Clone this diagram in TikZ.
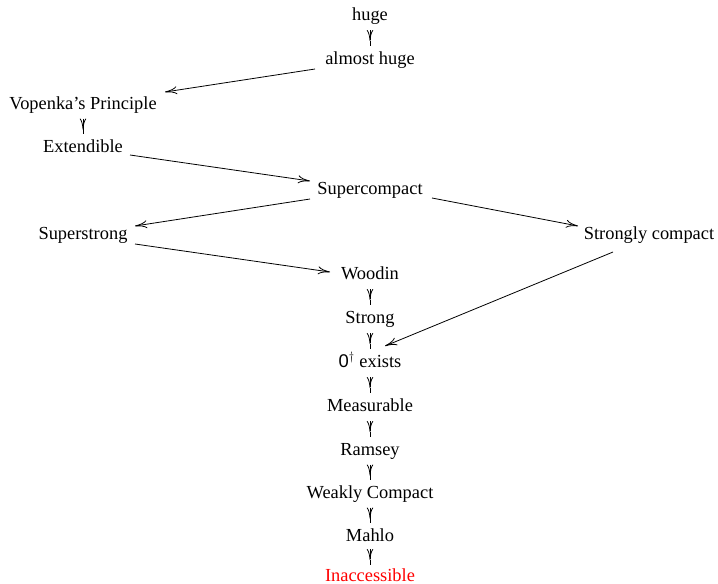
\documentclass[tikz,border=0pt]{standalone}
\usepackage{fontspec}
\setmainfont{Liberation Serif}
\setsansfont{Liberation Sans}
\usetikzlibrary{arrows.meta,calc}
\newcommand{\vlink}[2]{%
 \draw[vtip] ($(#1.base)!.5!(#2.base)+(0,-12)$) -- ($(#1.base)!.5!(#2.base)+(0,-1)$);
 \draw[line width=0.8pt] ($(#1.base)!.5!(#2.base)+(0,-1.5)$) -- ($(#1.base)!.5!(#2.base)+(0,3.5)$);}
\begin{document}
\begin{tikzpicture}[x=1pt,y=-1pt,
  lbl/.style={anchor=base,inner sep=0pt,font=\fontsize{18.4}{21}\selectfont},
  vtip/.style={line width=0.8pt,-{To[length=11pt,width=6.5pt]}},
  dtip/.style={line width=0.8pt,-{To[length=12pt,width=8pt]}}]
\useasboundingbox (0,0) rectangle (718,584);
\node[lbl] (huge) at (370,20) {huge};
\node[lbl] (ahuge) at (370,64) {almost huge};
\node[lbl] (vop) at (83,109) {Vopenka's Principle};
\node[lbl] (ext) at (83,152) {Extendible};
\node[lbl] (supc) at (370,194) {Supercompact};
\node[lbl] (sstr) at (83,239) {Superstrong};
\node[lbl] (scomp) at (649,239) {Strongly compact};
\node[lbl] (wood) at (370,279) {Woodin};
\node[lbl] (strong) at (370,323) {Strong};
\node[lbl] (zero) at (370,367) {\textsf{0}$^{\dagger}$ exists};
\node[lbl] (meas) at (370,411) {Measurable};
\node[lbl] (ram) at (370,455) {Ramsey};
\node[lbl] (wc) at (370,498) {Weakly Compact};
\node[lbl] (mah) at (370,541) {Mahlo};
\node[lbl,text=red] (inacc) at (370,581) {Inaccessible};
\vlink{huge}{ahuge}
\vlink{vop}{ext}
\vlink{wood}{strong}
\vlink{strong}{zero}
\vlink{zero}{meas}
\vlink{meas}{ram}
\vlink{ram}{wc}
\vlink{wc}{mah}
\vlink{mah}{inacc}
\draw[dtip] ([xshift=-55pt,yshift=-5pt]ahuge.base) -- ([xshift=82pt,yshift=17pt]vop.base);
\draw[dtip] ([xshift=47pt,yshift=-3pt]ext.base) -- ([xshift=-60pt,yshift=13pt]supc.base);
\draw[dtip] ([xshift=-60pt,yshift=-5pt]supc.base) -- ([xshift=52pt,yshift=13pt]sstr.base);
\draw[dtip] ([xshift=62pt,yshift=-4pt]supc.base) -- ([xshift=-71pt,yshift=13pt]scomp.base);
\draw[dtip] ([xshift=52pt,yshift=-5pt]sstr.base) -- ([xshift=-40pt,yshift=7pt]wood.base);
\draw[dtip] ([xshift=-36pt,yshift=-13pt]scomp.base) -- ([xshift=15pt,yshift=21pt]zero.base);
\end{tikzpicture}
\end{document}
